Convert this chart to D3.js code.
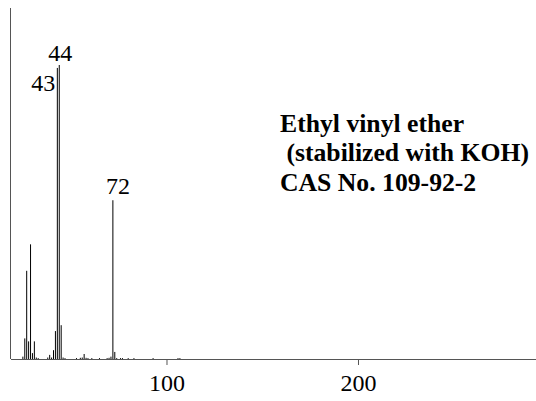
<!DOCTYPE html>
<html>
<head>
<meta charset="utf-8">
<script src="https://cdn.jsdelivr.net/npm/d3@7"></script>
<style>
  body { margin: 0; background: #fff; }
  svg { display: block; }
</style>
</head>
<body>
<script>
// mass spectrum: m/z and relative intensity (%)
const mzValues = [25, 26, 27, 28, 29, 30, 31, 32, 33, 38, 39, 40, 41, 42, 43, 44, 45, 46, 47,
                  53, 55, 56, 57, 58, 59, 61, 65, 69, 70, 71, 72, 73, 74, 76, 77, 80, 83, 93, 106, 107];
const intensities = [0.8, 7, 30, 6, 39, 2, 6, 0.5, 0.3, 0.5, 1.4, 0.5, 3, 9.5, 99, 100, 11.5, 0.5, 0.3,
                     0.3, 0.4, 0.5, 1.7, 0.4, 0.3, 0.3, 0.3, 0.3, 0.4, 0.8, 54, 2.4, 0.3, 0.3, 0.3, 0.3, 0.3, 0.3, 0.3, 0.3];
const peakLabels = [43, 44, 72];
const xTicks = [100, 200];
const titleLines = ["Ethyl vinyl ether", " (stabilized with KOH)", "CAS No. 109-92-2"];

const width = 536, height = 401;
const svg = d3.select("body").append("svg")
    .attr("width", width)
    .attr("height", height);

const x = d3.scaleLinear().domain([18.8, 300]).range([11, 549.5]);
const y = d3.scaleLinear().domain([0, 100]).range([359, 65]);

const peaks = mzValues.map((m, i) => ({ mz: m, val: intensities[i] }));

// axes
svg.append("line")
    .attr("x1", 10.5).attr("x2", 10.5)
    .attr("y1", 8).attr("y2", 359)
    .attr("stroke", "#555");

const xAxis = svg.append("g")
    .attr("transform", "translate(0,359)")
    .call(d3.axisBottom(x).tickValues(xTicks).tickSize(6).tickPadding(9).tickFormat(d3.format("d")));
xAxis.select(".domain").remove();
xAxis.selectAll(".tick line").attr("stroke", "#555");
xAxis.selectAll("text")
    .attr("fill", "#000")
    .style("font-family", "'Liberation Serif', 'Times New Roman', serif")
    .style("font-size", "24px");

svg.append("line")
    .attr("x1", 11).attr("x2", width)
    .attr("y1", 359.5).attr("y2", 359.5)
    .attr("stroke", "#555");

// peaks
svg.append("g").selectAll("line")
    .data(peaks)
    .join("line")
    .attr("x1", d => x(d.mz)).attr("x2", d => x(d.mz))
    .attr("y1", y(0)).attr("y2", d => y(d.val))
    .attr("stroke", "#000")
    .attr("stroke-width", 1);

// peak labels
const labelPos = {
    43: { dx: -2, dy: 23, anchor: "end" },
    44: { dx: 1, dy: -4, anchor: "middle" },
    72: { dx: 5, dy: -6, anchor: "middle" }
};
svg.append("g").selectAll("text")
    .data(peaks.filter(p => peakLabels.includes(p.mz)))
    .join("text")
    .attr("x", d => x(d.mz) + labelPos[d.mz].dx)
    .attr("y", d => y(d.val) + labelPos[d.mz].dy)
    .attr("text-anchor", d => labelPos[d.mz].anchor)
    .style("font-family", "'Liberation Serif', 'Times New Roman', serif")
    .style("font-size", "24px")
    .text(d => d.mz);

// compound name
svg.append("g").selectAll("text")
    .data(titleLines)
    .join("text")
    .attr("x", 280)
    .attr("y", (d, i) => 132 + i * 29.3)
    .style("white-space", "pre")
    .style("font-family", "'Liberation Serif', 'Times New Roman', serif")
    .style("font-weight", "bold")
    .style("font-size", "25.7px")
    .text(d => d);
</script>
</body>
</html>
